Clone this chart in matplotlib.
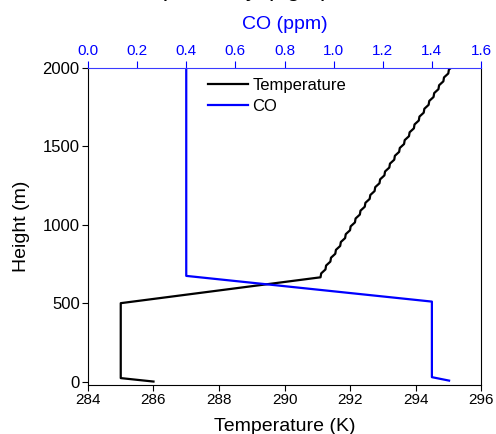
import matplotlib
matplotlib.use("Agg")
import matplotlib.pyplot as plt

plt.rcParams['font.family'] = ['Liberation Sans', 'DejaVu Sans']

# Temperature profile (K) vs height (m)
temp_height = [0, 22, 500, 665, 690, 715, 740, 765, 790, 815, 840, 865, 890, 915, 940,
               965, 990, 1015, 1040, 1065, 1090, 1115, 1140, 1165, 1190, 1215, 1240,
               1265, 1290, 1315, 1340, 1365, 1390, 1415, 1440, 1465, 1490, 1515, 1540,
               1565, 1590, 1615, 1640, 1665, 1690, 1715, 1740, 1765, 1790, 1815, 1840,
               1865, 1890, 1915, 1940, 1965, 1990, 2000]
temp_values = [286.0, 285.0, 285.0, 291.10, 291.12, 291.25, 291.27, 291.40, 291.42,
               291.55, 291.57, 291.70, 291.72, 291.85, 291.87, 292.00, 292.02, 292.15,
               292.17, 292.30, 292.32, 292.45, 292.47, 292.60, 292.62, 292.75, 292.77,
               292.90, 292.92, 293.05, 293.07, 293.20, 293.22, 293.35, 293.37, 293.50,
               293.52, 293.65, 293.67, 293.80, 293.82, 293.95, 293.97, 294.10, 294.12,
               294.25, 294.27, 294.40, 294.42, 294.55, 294.57, 294.70, 294.72, 294.85,
               294.87, 295.00, 295.02, 295.08]

# CO profile (ppm) vs height (m)
co_height = [6, 28, 510, 674, 2000]
co_values = [1.47, 1.40, 1.40, 0.40, 0.40]

temp_ticks = [284, 286, 288, 290, 292, 294, 296]
co_ticks = [0.0, 0.2, 0.4, 0.6, 0.8, 1.0, 1.2, 1.4, 1.6]
height_ticks = [0, 500, 1000, 1500, 2000]

fig = plt.figure(figsize=(4.96, 4.34), dpi=100)
ax = fig.add_axes([0.1774, 0.1129, 0.7924, 0.7304])
ax2 = ax.twiny()

l1, = ax.plot(temp_values, temp_height, color='black', lw=1.6, label='Temperature')
l2, = ax2.plot(co_values, co_height, color='#0000ff', lw=1.6, label='CO')

ax.set_xlim(284, 296)
ax.set_ylim(-22, 2000)
ax2.set_xlim(0.0, 1.6)
ax.set_xticks(temp_ticks)
ax.set_xticklabels([str(t) for t in temp_ticks])
ax.set_yticks(height_ticks)
ax2.set_xticks(co_ticks)
ax2.set_xticklabels([f"{t:.1f}" for t in co_ticks])

ax.tick_params(axis='x', direction='out', length=4, width=0.8, labelsize=11, colors='black', pad=2)
ax.tick_params(axis='y', direction='out', length=4, width=0.8, labelsize=12, colors='black', pad=2)
ax2.tick_params(axis='x', direction='out', length=5, width=0.8, labelsize=11,
                colors='#0000ff', pad=2)

for s in ['left', 'right', 'bottom']:
    ax2.spines[s].set_visible(False)
ax2.spines['top'].set_color('#3a3aff')
ax.spines['top'].set_visible(False)
for s in ['left', 'right', 'bottom']:
    ax.spines[s].set_color('black')
    ax.spines[s].set_linewidth(0.8)

ax.set_xlabel('Temperature (K)', fontsize=14, labelpad=8)
ax.set_ylabel('Height (m)', fontsize=14, labelpad=9)
ax2.set_xlabel('CO (ppm)', fontsize=14, color='#0000ff', labelpad=11)

ax.legend(handles=[l1, l2], loc='upper left', bbox_to_anchor=(0.28, 1.0), frameon=False,
          fontsize=12, handlelength=2.4, handletextpad=0.25, labelspacing=0.35,
          borderaxespad=0.2)

fig.text(329 / 496, 1 + 4 / 434, ', respectively (right)', ha='right', va='baseline',
         fontsize=17.7, color='black')

fig.savefig('out.png', dpi=100)
